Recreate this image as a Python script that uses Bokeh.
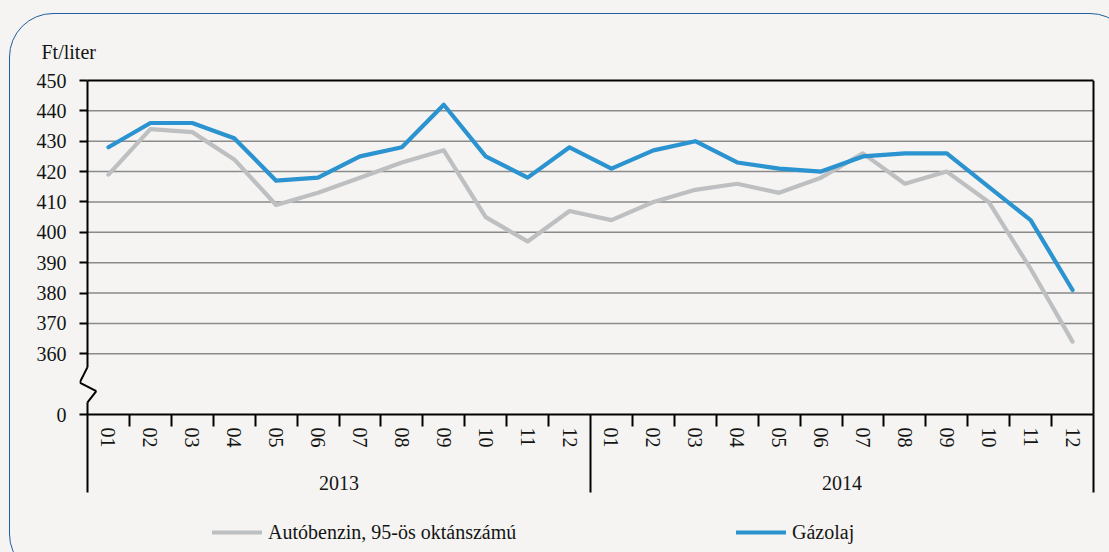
from bokeh.plotting import figure
from bokeh.models import (Range1d, LinearAxis, FixedTicker, Legend, LegendItem,
                          Arrow, InlineStyleSheet)
from bokeh.embed import file_html
from bokeh.resources import INLINE

# ---------------- data ----------------
years = ["2013", "2014"]
months = ["01", "02", "03", "04", "05", "06", "07", "08", "09", "10", "11", "12"]
periods = [(y, m) for y in years for m in months]

benzin = [419, 434, 433, 424, 409, 413, 418, 423, 427, 405, 397, 407,
          404, 410, 414, 416, 413, 418, 426, 416, 420, 410, 388, 364]
gazolaj = [428, 436, 436, 431, 417, 418, 425, 428, 442, 425, 418, 428,
           421, 427, 430, 423, 421, 420, 425, 426, 426, 415, 404, 381]
series_names = ["Autóbenzin, 95-ös oktánszámú", "Gázolaj"]

y_ticks = [340, 360, 370, 380, 390, 400, 410, 420, 430, 440, 450]
y_tick_labels = ["0", "360", "370", "380", "390", "400", "410", "420", "430", "440", "450"]
unit_label = "Ft/liter"

# ---------------- style / layout ----------------
BG = "#f5f4f2"
FONT = "Liberation Serif"
FS = "20px"
TXT = "#141414"
GRAY = "#bdbfc1"
BLUE = "#2a93d0"

n = len(periods)
nm = len(months)
pad = 8 / (1006 / n)                          # room left/right of the category band
x_pos = [i + 0.5 for i in range(n)]           # category centres on the x scale

PLOT_H = 334                                  # pixel height of the value band
FRAME_H = 472                                 # frame also holds the axes + legend below
px_per_y = PLOT_H / (y_ticks[-1] - y_ticks[0])
y_lo = y_ticks[-1] - FRAME_H / px_per_y
year_axis_y = y_ticks[0] - 33 / px_per_y

css = (':host { background-color: ' + BG + '; overflow: hidden; position: relative; }'
       ':host::before { content: ""; position: absolute; left: 9px; top: 13px; '
       'width: 1125px; height: 565px; border: 1.6px solid #1d5f9f; border-radius: 44px; '
       'box-sizing: border-box; pointer-events: none; }')

p = figure(x_range=Range1d(-pad, n + pad), y_range=Range1d(y_lo, y_ticks[-1]),
           frame_width=1022, frame_height=FRAME_H,
           min_border_left=79, min_border_right=8, min_border_top=80, min_border_bottom=0,
           x_axis_location=None, y_axis_location=None,
           output_backend="svg", toolbar_location=None,
           background_fill_color=BG, border_fill_color=None, outline_line_color=None,
           title=unit_label)
p.center = []
p.stylesheets = [InlineStyleSheet(css=css)]

p.title.align = "left"
p.title.offset = -38
p.title.standoff = 36
p.title.text_font = FONT
p.title.text_font_size = FS
p.title.text_font_style = "normal"
p.title.text_color = TXT

# grid lines (only across the category band)
grid_vals = y_ticks[1:-1]
p.segment(x0=[0] * len(grid_vals), x1=[n] * len(grid_vals), y0=grid_vals, y1=grid_vals,
          line_color="#8a8a8a", line_width=1.5)

# y axis (ticks drawn inward up to the spine)
yax = LinearAxis(ticker=FixedTicker(ticks=y_ticks),
                 major_label_overrides=dict(zip(y_ticks, y_tick_labels)),
                 axis_line_color=None, major_tick_out=0, major_tick_in=8,
                 major_tick_line_color="black", major_tick_line_width=2,
                 minor_tick_line_color=None, major_label_standoff=13,
                 major_label_text_font=FONT, major_label_text_font_size=FS,
                 major_label_text_color=TXT)
p.add_layout(yax, "left")

# top border
top = LinearAxis(ticker=FixedTicker(ticks=[]), bounds=(0, n),
                 axis_line_color="black", axis_line_width=2,
                 major_tick_out=0, major_tick_in=0, minor_tick_out=0, minor_tick_in=0,
                 major_label_standoff=0, major_label_text_font_size="0px")
p.add_layout(top, "above")

# month axis, fixed at the bottom of the value band
bounds = [i for i in range(1, n) if i % nm != 0]
mlabels = {c: per[1] for c, per in zip(x_pos, periods)}
mx = LinearAxis(ticker=FixedTicker(ticks=x_pos, minor_ticks=bounds), bounds=(0, n),
                fixed_location=y_ticks[0],
                major_label_overrides=mlabels,
                major_tick_out=0, major_tick_in=0, major_tick_line_color=None,
                minor_tick_out=12, minor_tick_in=0, minor_tick_line_color="black",
                minor_tick_line_width=2,
                axis_line_color="black", axis_line_width=2,
                major_label_orientation="vertical", major_label_standoff=1,
                major_label_text_font=FONT, major_label_text_font_size=FS,
                major_label_text_color=TXT)
p.add_layout(mx, "below")

# year axis with group separators
yr_centers = [nm * (k + 0.5) for k in range(len(years))]
yr_bounds = [nm * k for k in range(len(years) + 1)]
yrax = LinearAxis(ticker=FixedTicker(ticks=yr_centers, minor_ticks=yr_bounds),
                  fixed_location=year_axis_y,
                  major_label_overrides=dict(zip(yr_centers, years)),
                  axis_line_color=None, major_tick_line_color=None,
                  major_tick_out=0, major_tick_in=0,
                  minor_tick_in=33, minor_tick_out=45, minor_tick_line_color="black",
                  minor_tick_line_width=2, major_label_standoff=-17,
                  major_label_text_font=FONT, major_label_text_font_size=FS,
                  major_label_text_color=TXT)
p.add_layout(yrax, "below")

# left spine with axis break, right border
def seg(x0, y0, x1, y1):
    p.add_layout(Arrow(end=None, x_start=x0, y_start=y0, x_end=x1, y_end=y1,
                       line_color="black", line_width=2, line_join="miter"))

seg(0, 450, 0, 355.6)
seg(0, 355.6, -0.185, 350.5)
seg(-0.185, 350.5, 0.21, 347.7)
seg(0.21, 347.7, 0, 344.0)
seg(0, 344.0, 0, 340)
seg(n, 450, n, 340)

# series
r1 = p.line(x=x_pos, y=benzin, line_color=GRAY, line_width=4.2,
            line_join="round", line_cap="round")
r2 = p.line(x=x_pos, y=gazolaj, line_color=BLUE, line_width=4.2,
            line_join="round", line_cap="round")

legend = Legend(items=[LegendItem(label=series_names[0], renderers=[r1]),
                       LegendItem(label=series_names[1], renderers=[r2])],
                orientation="horizontal", location=(133, 8),
                glyph_width=50, glyph_height=20, label_standoff=6, spacing=179,
                label_width=289, label_height=24, padding=3, margin=0,
                background_fill_alpha=0, border_line_color=None,
                label_text_font=FONT, label_text_font_size=FS, label_text_color=TXT)
p.add_layout(legend)

open("out.html", "w").write(file_html(p, INLINE))
